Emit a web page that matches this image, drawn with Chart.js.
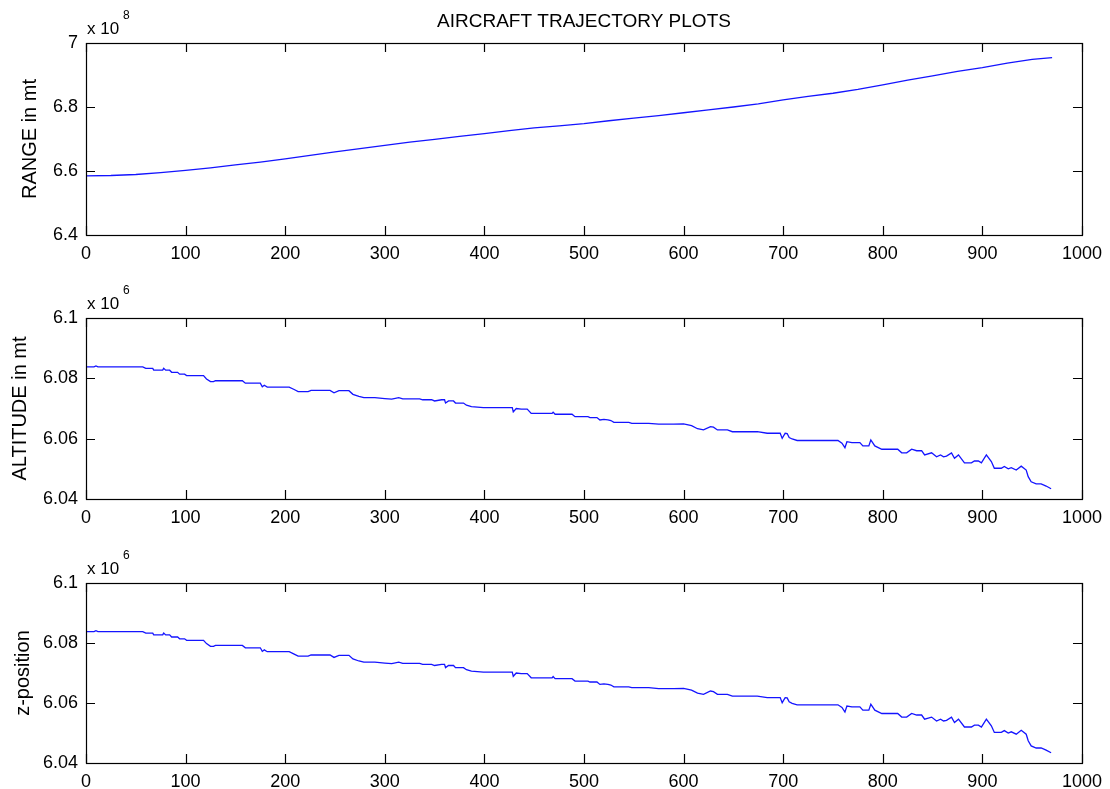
<!DOCTYPE html>
<html>
<head>
<meta charset="utf-8">
<script src="https://cdn.jsdelivr.net/npm/chart.js@4/dist/chart.umd.min.js"></script>
<style>
  html, body { margin: 0; padding: 0; background: #fff; overflow: hidden; }
  body { width: 1110px; height: 789px; position: relative; }
  .panel { position: absolute; left: 0; width: 1110px; }
</style>
</head>
<body>
<div class="panel" style="top:0px;height:263px"><canvas id="rangePlot" width="1110" height="263"></canvas></div>
<div class="panel" style="top:263px;height:264px"><canvas id="altitudePlot" width="1110" height="264"></canvas></div>
<div class="panel" style="top:527px;height:264px"><canvas id="zPlot" width="1110" height="264"></canvas></div>
<script>
// x axis ticks shared by all three subplots
const xTicks = [0, 100, 200, 300, 400, 500, 600, 700, 800, 900, 1000];

// RANGE (x 10^8 mt)
const rangeSteps = [0, 25, 50, 75, 100, 125, 150, 175, 200, 225, 250, 275, 300, 325, 350, 375, 400, 425, 450, 475,
  500, 525, 550, 575, 600, 625, 650, 675, 700, 725, 750, 775, 800, 825, 850, 875, 900, 925, 950, 970];
const rangeValues = [6.585, 6.586, 6.589, 6.595, 6.602, 6.610, 6.619, 6.628, 6.638, 6.649, 6.660, 6.670, 6.680, 6.690,
  6.699, 6.708, 6.717, 6.726, 6.735, 6.741, 6.748, 6.757, 6.765, 6.773, 6.782, 6.791, 6.800, 6.810, 6.822, 6.833,
  6.843, 6.855, 6.869, 6.884, 6.897, 6.911, 6.923, 6.937, 6.949, 6.954];

// ALTITUDE (x 10^6 mt)
const altitudeSteps = [0, 8, 10, 12, 57, 60, 67, 68, 77, 78, 80, 84, 86, 92, 94, 99, 101, 118, 121, 125,
  128, 130, 157, 160, 175, 177, 179, 182, 204, 209, 213, 223, 226, 245, 249, 254, 264, 268, 274, 279,
  290, 300, 307, 314, 318, 335, 338, 347, 350, 357, 360, 361, 364, 369, 371, 379, 382, 387, 399, 428,
  429, 432, 437, 443, 447, 468, 469, 471, 488, 491, 504, 506, 513, 516, 520, 524, 527, 530, 545, 548,
  565, 575, 590, 600, 608, 614, 620, 627, 630, 634, 644, 649, 674, 684, 697, 699, 702, 704, 706, 709,
  714, 755, 759, 762, 764, 769, 777, 780, 786, 788, 792, 799, 815, 819, 824, 829, 834, 839, 842, 849,
  854, 858, 861, 864, 869, 872, 876, 882, 889, 892, 896, 899, 904, 909, 912, 919, 922, 926, 929, 934,
  939, 944, 946, 949, 954, 959, 964, 969];
const altitudeValues = [6.0838, 6.0838, 6.0841, 6.0838, 6.0838, 6.0833, 6.0833, 6.0827, 6.0827, 6.0833, 6.0827, 6.0827, 6.0820, 6.0820, 6.0814, 6.0814, 6.0809, 6.0809, 6.0798, 6.0789,
  6.0789, 6.0792, 6.0792, 6.0784, 6.0784, 6.0772, 6.0777, 6.0771, 6.0771, 6.0763, 6.0756, 6.0756, 6.0760, 6.0760, 6.0752, 6.0759, 6.0759, 6.0747, 6.0740, 6.0736,
  6.0736, 6.0733, 6.0731, 6.0736, 6.0732, 6.0732, 6.0729, 6.0729, 6.0725, 6.0729, 6.0729, 6.0718, 6.0725, 6.0725, 6.0718, 6.0718, 6.0711, 6.0706, 6.0703, 6.0703,
  6.0689, 6.0700, 6.0698, 6.0698, 6.0684, 6.0684, 6.0688, 6.0681, 6.0681, 6.0673, 6.0673, 6.0670, 6.0670, 6.0662, 6.0664, 6.0662, 6.0660, 6.0654, 6.0654, 6.0651,
  6.0651, 6.0648, 6.0648, 6.0649, 6.0643, 6.0633, 6.0629, 6.0640, 6.0638, 6.0629, 6.0629, 6.0623, 6.0623, 6.0618, 6.0618, 6.0601, 6.0618, 6.0617, 6.0604, 6.0599,
  6.0594, 6.0594, 6.0585, 6.0570, 6.0590, 6.0587, 6.0587, 6.0576, 6.0576, 6.0596, 6.0576, 6.0565, 6.0565, 6.0553, 6.0553, 6.0565, 6.0560, 6.0560, 6.0546, 6.0553,
  6.0540, 6.0546, 6.0540, 6.0542, 6.0553, 6.0535, 6.0546, 6.0520, 6.0520, 6.0526, 6.0526, 6.0520, 6.0546, 6.0524, 6.0502, 6.0502, 6.0508, 6.0500, 6.0504, 6.0496,
  6.0509, 6.0496, 6.0474, 6.0457, 6.0450, 6.0450, 6.0443, 6.0434];

// z-position follows the same track as altitude
const zSteps = altitudeSteps;
const zValues = altitudeValues;

const FONT = '"Liberation Sans", Arial, Helvetica, sans-serif';
Chart.defaults.color = '#000';
Chart.defaults.font.family = FONT;

// matlab style box, inward ticks on all four sides, exponent label and figure title
const matlabAxes = {
  id: 'matlabAxes',
  afterDraw(chart, args, opts) {
    const ctx = chart.ctx;
    const a = chart.chartArea;
    const xs = chart.scales.x, ys = chart.scales.y;
    const tl = 9;
    ctx.save();
    ctx.strokeStyle = '#000';
    ctx.lineWidth = 1.2;
    ctx.strokeRect(a.left + 0.5, a.top + 0.5, a.right - a.left, a.bottom - a.top);
    ctx.beginPath();
    xs.ticks.forEach(t => {
      const px = Math.round(xs.getPixelForValue(t.value)) + 0.5;
      ctx.moveTo(px, a.bottom); ctx.lineTo(px, a.bottom - tl);
      ctx.moveTo(px, a.top); ctx.lineTo(px, a.top + tl);
    });
    ys.ticks.forEach(t => {
      const py = Math.round(ys.getPixelForValue(t.value)) + 0.5;
      ctx.moveTo(a.left, py); ctx.lineTo(a.left + tl, py);
      ctx.moveTo(a.right, py); ctx.lineTo(a.right - tl, py);
    });
    ctx.stroke();

    ctx.fillStyle = '#000';
    ctx.textAlign = 'left';
    ctx.textBaseline = 'alphabetic';
    ctx.font = '17px ' + FONT;
    ctx.fillText('x 10', a.left + 1, a.top - 9);
    ctx.font = '12px ' + FONT;
    ctx.fillText(opts.exponent, a.left + 37, a.top - 24);

    if (opts.title) {
      ctx.font = '19px ' + FONT;
      ctx.textAlign = 'center';
      ctx.fillText(opts.title, (a.left + a.right) / 2, 27);
    }
    ctx.restore();
  }
};

function makePlot(id, steps, values, yMin, yMax, yStep, yTitle, titlePad, topPad, exponent, title) {
  const points = steps.map((s, i) => ({ x: s, y: values[i] }));
  return new Chart(document.getElementById(id), {
    type: 'line',
    data: {
      datasets: [{
        data: points,
        borderColor: 'rgb(20,20,255)',
        borderWidth: 1.3,
        pointRadius: 0,
        tension: 0,
        fill: false
      }]
    },
    options: {
      responsive: false,
      animation: false,
      layout: { padding: { top: topPad, right: 22, bottom: 0, left: 0 } },
      plugins: {
        legend: { display: false },
        tooltip: { enabled: false },
        matlabAxes: { exponent: exponent, title: title }
      },
      scales: {
        x: {
          type: 'linear',
          min: 0,
          max: 1000,
          afterBuildTicks: scale => { scale.ticks = xTicks.map(v => ({ value: v })); },
          afterFit: scale => { scale.height = 28; },
          grid: { display: false, drawTicks: false },
          border: { display: false },
          ticks: {
            padding: 8, maxRotation: 0, autoSkip: false, font: { size: 18 }, color: '#000',
            callback: v => String(v)
          }
        },
        y: {
          min: yMin,
          max: yMax,
          afterFit: scale => { scale.width = 86; },
          grid: { display: false, drawTicks: false },
          border: { display: false },
          ticks: {
            stepSize: yStep,
            padding: 8,
            font: { size: 18 },
            color: '#000',
            callback: v => String(+v.toFixed(2))
          },
          title: {
            display: true,
            text: yTitle,
            font: { size: 20 },
            color: '#000',
            padding: { top: titlePad, bottom: 0 }
          }
        }
      }
    },
    plugins: [matlabAxes]
  });
}

makePlot('rangePlot', rangeSteps, rangeValues, 6.4, 7, 0.2, 'RANGE in mt', 18, 43, '8', 'AIRCRAFT TRAJECTORY PLOTS');
makePlot('altitudePlot', altitudeSteps, altitudeValues, 6.04, 6.1, 0.02, 'ALTITUDE in mt', 8, 55, '6', null);
makePlot('zPlot', zSteps, zValues, 6.04, 6.1, 0.02, 'z-position', 11, 56, '6', null);
</script>
</body>
</html>
